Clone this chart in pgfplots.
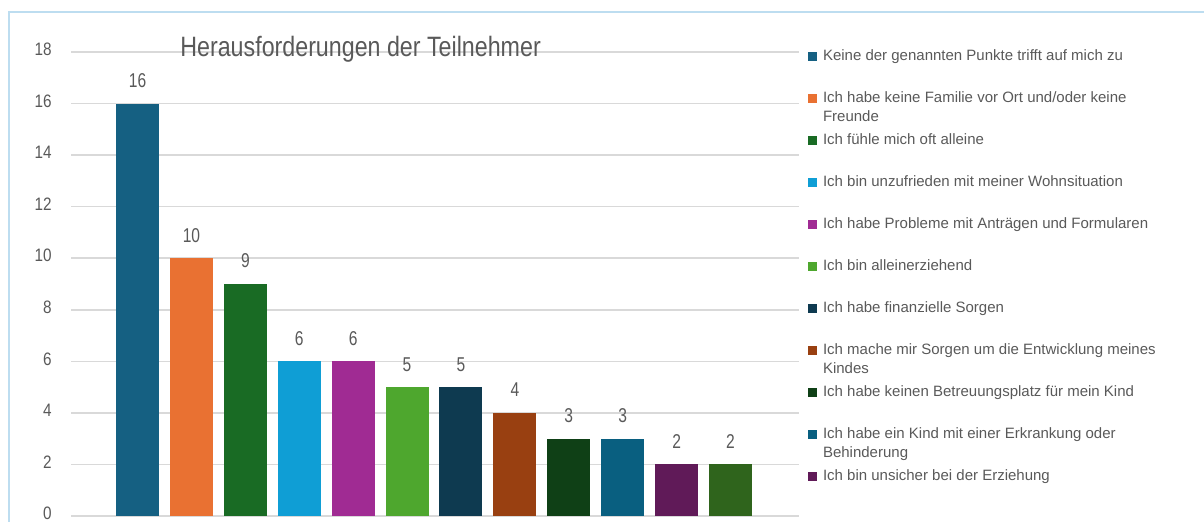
\documentclass[border=0pt]{standalone}
\usepackage{pgfplots}
\pgfplotsset{compat=1.18}
\usepackage{graphicx}
\usepackage{fontspec}
\setmainfont{Liberation Sans}
\definecolor{c1}{HTML}{156082}
\definecolor{c2}{HTML}{E97132}
\definecolor{c3}{HTML}{196B24}
\definecolor{c4}{HTML}{0F9ED5}
\definecolor{c5}{HTML}{A02B93}
\definecolor{c6}{HTML}{4EA72E}
\definecolor{c7}{HTML}{0E3A50}
\definecolor{c8}{HTML}{994011}
\definecolor{c9}{HTML}{0F4016}
\definecolor{c10}{HTML}{095F80}
\definecolor{c11}{HTML}{601A58}
\definecolor{c12}{HTML}{2F641C}
\definecolor{txtgray}{HTML}{595959}
\definecolor{gridgray}{HTML}{D9D9D9}
\definecolor{framecol}{HTML}{BDDDF0}
\pgfplotsset{sq/.style={fill=#1, draw=none,
  legend image code/.code={\fill[##1] (0pt,0pt) rectangle (4.5pt,4.5pt);}}}
\newcommand{\two}[2]{\vtop{\hbox{#1}\hbox{#2}}}
\begin{document}
\begin{tikzpicture}
\path[use as bounding box] (-35.5pt,-3pt) rectangle (566.5pt,258pt);
\draw[framecol, line width=1pt] (-31pt,-10pt) -- (-31pt,252pt) -- (580pt,252pt);
\begin{axis}[
  scale only axis, width=364pt, height=232pt,
  xmin=-1.234, xmax=12.27, ymin=0, ymax=18,
  ytick={0,2,...,18}, xtick=\empty,
  ymajorgrids, grid style={color=gridgray, line width=0.75pt},
  axis line style={draw=none}, major tick style={draw=none},
  yticklabel={\scalebox{0.85}[1]{\pgfmathprintnumber[assume math mode=true]{\tick}}},
  yticklabel style={font=\fontsize{9}{10}\selectfont, text=txtgray, anchor=east, inner sep=0pt, xshift=-9.5pt, yshift=1.25pt},
  ybar, bar width=21.5pt, bar shift=0pt,
  nodes near coords={\scalebox{0.78}[1]{\pgfmathprintnumber[assume math mode=true]{\pgfplotspointmeta}}},
  nodes near coords style={font=\fontsize{10}{12}\selectfont, text=txtgray, anchor=base, inner sep=0pt, yshift=8pt},
  clip=false,
  legend style={at={(1.0124,1.0071)}, anchor=north west, draw=none, fill=none,
    inner sep=0pt, outer sep=0pt, column sep=3pt, row sep=0pt,
    font=\fontsize{7.5}{9.6}\selectfont, text=txtgray,
    cells={anchor=base west},
    nodes={inner sep=0pt, text height=6pt, text depth=15pt}},
]
\addplot[sq=c1] coordinates {(0,16)};
\addlegendentry{Keine der genannten Punkte trifft auf mich zu}
\addplot[sq=c2] coordinates {(1,10)};
\addlegendentry{\two{Ich habe keine Familie vor Ort und/oder keine}{Freunde}}
\addplot[sq=c3] coordinates {(2,9)};
\addlegendentry{Ich fühle mich oft alleine}
\addplot[sq=c4] coordinates {(3,6)};
\addlegendentry{Ich bin unzufrieden mit meiner Wohnsituation}
\addplot[sq=c5] coordinates {(4,6)};
\addlegendentry{Ich habe Probleme mit Anträgen und Formularen}
\addplot[sq=c6] coordinates {(5,5)};
\addlegendentry{Ich bin alleinerziehend}
\addplot[sq=c7] coordinates {(6,5)};
\addlegendentry{Ich habe finanzielle Sorgen}
\addplot[sq=c8] coordinates {(7,4)};
\addlegendentry{\two{Ich mache mir Sorgen um die Entwicklung meines}{Kindes}}
\addplot[sq=c9] coordinates {(8,3)};
\addlegendentry{Ich habe keinen Betreuungsplatz für mein Kind}
\addplot[sq=c10] coordinates {(9,3)};
\addlegendentry{\two{Ich habe ein Kind mit einer Erkrankung oder}{Behinderung}}
\addplot[sq=c11] coordinates {(10,2)};
\addlegendentry{Ich bin unsicher bei der Erziehung}
\addplot[sq=c12, forget plot] coordinates {(11,2)};
\node[anchor=base west, inner sep=0pt, text=txtgray, font=\fontsize{14}{16}\selectfont]
  at (axis description cs:0.1497,0.9899) {\scalebox{0.83}[1]{Herausforderungen der Teilnehmer}};
\end{axis}
\end{tikzpicture}
\end{document}
